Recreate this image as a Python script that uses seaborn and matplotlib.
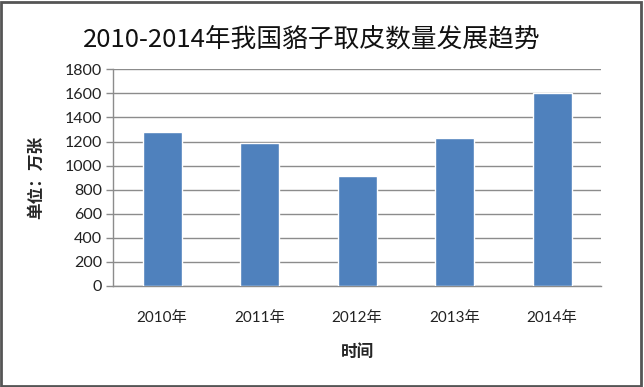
import matplotlib
matplotlib.use("Agg")
import matplotlib.pyplot as plt
import seaborn as sns
import pandas as pd
from matplotlib.patches import Rectangle

years = ["2010年", "2011年", "2012年", "2013年", "2014年"]
values = [1280, 1190, 914, 1232, 1600]
yticks = [0, 200, 400, 600, 800, 1000, 1200, 1400, 1600, 1800]

sns.set_theme(style="white")
plt.rcParams['font.family'] = ['Lato', 'Noto Sans CJK SC', 'DejaVu Sans']

df = pd.DataFrame({"year": years, "value": values})

fig = plt.figure(figsize=(6.44, 3.87), dpi=100)
ax = fig.add_axes([0.176, 0.261, 0.757, 0.560])

sns.barplot(data=df, x="year", y="value", color="#4F81BD", width=0.40,
            saturation=1, ax=ax, zorder=3)

ax.set_ylim(0, 1800)
ax.set_yticks(yticks)
ax.set_yticklabels([str(t) for t in yticks], fontsize=11.5, color="#222222")
ax.set_xlim(-0.5, 4.5)
for lbl in ax.get_xticklabels():
    lbl.set_fontsize(11)
    lbl.set_color("#222222")
ax.yaxis.grid(True, color="#8c8c8c", linewidth=1.0, zorder=0)
ax.set_axisbelow(True)

for s in ["top", "right"]:
    ax.spines[s].set_visible(False)
for s in ["left", "bottom"]:
    ax.spines[s].set_color("#8c8c8c")
    ax.spines[s].set_linewidth(1.0)

ax.tick_params(axis="y", which="major", left=True, length=5, width=1,
               color="#8c8c8c", pad=3)
ax.tick_params(axis="x", bottom=False, pad=12)

ax.set_xlabel("时间", fontsize=12, fontweight="bold",
              family=['Noto Sans CJK SC'], labelpad=13)
ax.set_ylabel("单位：万张", fontsize=12, fontweight="bold",
              family=['Noto Sans CJK SC'], labelpad=14)

fig.text(0.484, 0.899, "2010-2014年我国貉子取皮数量发展趋势", ha="center",
         va="center", fontsize=18.5, family=['Noto Sans CJK SC'], color="#111111")

fig.patches.append(Rectangle((0.002, 0.003), 0.994, 0.992, transform=fig.transFigure,
                             fill=False, edgecolor="#555555", linewidth=2))

fig.savefig("out.png", dpi=100)
